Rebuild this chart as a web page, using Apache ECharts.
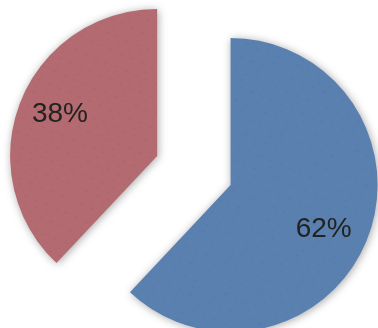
<!DOCTYPE html>
<html>
<head>
<meta charset="utf-8">
<script src="https://cdn.jsdelivr.net/npm/echarts@6/dist/echarts.min.js"></script>
<style>
  html, body { margin: 0; padding: 0; background: #fff; }
  #chart { width: 378px; height: 328px; }
</style>
</head>
<body>
<div id="chart"></div>
<script>
// two slices, the small one pulled out
var names = ['B', 'A'];
var values = [62, 38];
var colors = ['#5a80b0', '#b36a70'];
var labelShift = [[22, 16], [-26, -13]];

var myChart = echarts.init(document.getElementById('chart'));

var pieData = values.map(function (v, i) {
    return {
        name: names[i],
        value: v,
        selected: i === 1,
        itemStyle: {
            color: colors[i],
            decal: {
                symbol: 'rect',
                symbolSize: 0.5,
                color: 'rgba(40,30,60,0.12)',
                dashArrayX: [[3, 9], [6, 5]],
                dashArrayY: [1, 6],
                rotation: 0.4
            }
        },
        label: { offset: labelShift[i] },
        select: { label: { offset: labelShift[i] } }
    };
});

option = {
    animation: false,
    series: [
        {
            type: 'pie',
            center: ['61%', '56.4%'],
            radius: 147,
            startAngle: 90,
            clockwise: true,
            selectedMode: 'single',
            selectedOffset: 79,
            data: pieData,
            itemStyle: {
                shadowBlur: 8,
                shadowColor: 'rgba(0,0,0,0.35)',
                shadowOffsetX: 1,
                shadowOffsetY: 1
            },
            label: {
                show: true,
                position: 'inside',
                formatter: '{c}%',
                fontFamily: 'Liberation Sans',
                fontSize: 28,
                color: '#222'
            },
            labelLine: { show: false },
            emphasis: { disabled: true }
        }
    ]
};

myChart.setOption(option);
</script>
</body>
</html>
